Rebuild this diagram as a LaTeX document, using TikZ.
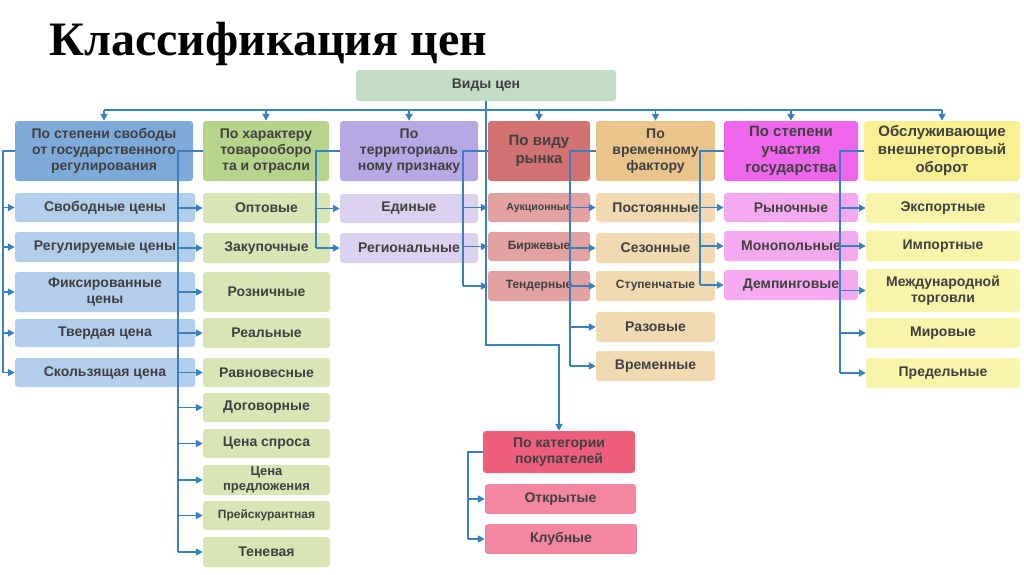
\documentclass[tikz,border=0pt]{standalone}
\usepackage{fontspec}
\setmainfont{Liberation Sans}
\newfontfamily\titlefont{Liberation Serif}
\usetikzlibrary{arrows.meta}
\definecolor{ln}{HTML}{3A7FC0}
\definecolor{tx}{HTML}{404040}
\definecolor{cRoot}{HTML}{C2DCC6}
\definecolor{hA}{HTML}{7DAAD8}\definecolor{cA}{HTML}{B2CEEA}
\definecolor{hB}{HTML}{B6D48C}\definecolor{cB}{HTML}{D8E6B6}
\definecolor{hC}{HTML}{B6A8E2}\definecolor{cC}{HTML}{DAD2EE}
\definecolor{hD}{HTML}{D27272}\definecolor{cD}{HTML}{E2A2A2}
\definecolor{hE}{HTML}{E9C58C}\definecolor{cE}{HTML}{F1DAB2}
\definecolor{hF}{HTML}{EE66EC}\definecolor{cF}{HTML}{F5AAF0}
\definecolor{hG}{HTML}{F8F092}\definecolor{cG}{HTML}{F8F4AA}
\definecolor{hH}{HTML}{EE5F7E}\definecolor{cH}{HTML}{F586A2}
\tikzset{
 bx/.style={rounded corners=3pt,inner sep=0pt,align=center,text=tx,font=\bfseries\fontsize{14}{16}\selectfont},
 sm/.style={font=\bfseries\fontsize{12}{14}\selectfont},
 wire/.style={draw=ln,line width=1.8pt},
 ar/.style={wire,-{Triangle[length=7pt,width=7pt]}}
}
\newcommand\bx[8][]{\node[bx,#1,fill=#7,minimum width={(#4-#2)*1pt},minimum height={(#5-#3)*1pt}] (#6) at ({(#2+#4)/2},{-(#3+#5)/2}) {#8};}
\begin{document}
\begin{tikzpicture}[x=1pt,y=1pt]
\useasboundingbox (0,0) rectangle (1024,-574);
\node[anchor=west,font=\titlefont\bfseries\fontsize{48}{50}\selectfont] (title) at (46,-44) {Классификация цен};
\bx{356}{70}{616}{101}{root}{cRoot}{Виды цен}
% headers
\bx{15}{121}{193}{181}{h1}{hA}{По степени свободы\\от государственного\\регулирования}
\bx{203}{121}{329}{181}{h2}{hB}{По характеру\\товарооборо\\та и отрасли}
\bx{340}{121}{478}{181}{h3}{hC}{По\\территориаль\\ному признаку}
\bx[font=\bfseries\fontsize{15}{18}\selectfont]{488}{121}{590}{181}{h4}{hD}{По виду\\рынка}
\bx{596}{121}{715}{181}{h5}{hE}{По\\временному\\фактору}
\bx[font=\bfseries\fontsize{15}{18}\selectfont]{724}{121}{858}{181}{h6}{hF}{По степени\\участия\\государства}
\bx[font=\bfseries\fontsize{15}{18}\selectfont]{864}{121}{1020}{181}{h7}{hG}{Обслуживающие\\внешнеторговый\\оборот}
% col1
\bx{15}{193}{195}{222}{a1}{cA}{Свободные цены}
\bx{15}{232}{195}{262}{a2}{cA}{Регулируемые цены}
\bx{15}{272}{195}{312}{a3}{cA}{Фиксированные\\цены}
\bx{15}{319}{195}{347}{a4}{cA}{Твердая цена}
\bx{15}{358}{195}{387}{a5}{cA}{Скользящая цена}
% col2
\bx{203}{193}{330}{223}{b1}{cB}{Оптовые}
\bx{203}{233}{330}{263}{b2}{cB}{Закупочные}
\bx{203}{272}{330}{312}{b3}{cB}{Розничные}
\bx{203}{318}{330}{348}{b4}{cB}{Реальные}
\bx{203}{358}{330}{387}{b5}{cB}{Равновесные}
\bx{203}{393}{330}{422}{b6}{cB}{Договорные}
\bx{203}{429}{330}{458}{b7}{cB}{Цена спроса}
\bx[font=\bfseries\fontsize{13}{15}\selectfont]{203}{465}{330}{495}{b8}{cB}{Цена\\предложения}
\bx[sm]{203}{501}{330}{530}{b9}{cB}{Прейскурантная}
\bx{203}{537}{330}{567}{b10}{cB}{Теневая}
% col3
\bx{340}{194}{478}{223}{c1}{cC}{Единые}
\bx{340}{233}{478}{263}{c2}{cC}{Региональные}
% col4
\bx[font=\bfseries\fontsize{10.5}{12}\selectfont]{488}{193}{590}{222}{d1}{cD}{Аукционные}
\bx[sm]{488}{232}{590}{261}{d2}{cD}{Биржевые}
\bx[sm]{488}{271}{590}{301}{d3}{cD}{Тендерные}
% col5
\bx{596}{193}{715}{222}{e1}{cE}{Постоянные}
\bx{596}{233}{715}{263}{e2}{cE}{Сезонные}
\bx[sm]{596}{271}{715}{301}{e3}{cE}{Ступенчатые}
\bx{596}{312}{715}{342}{e4}{cE}{Разовые}
\bx{596}{351}{715}{381}{e5}{cE}{Временные}
% col6
\bx{724}{193}{858}{222}{f1}{cF}{Рыночные}
\bx{724}{231}{858}{261}{f2}{cF}{Монопольные}
\bx{724}{270}{858}{300}{f3}{cF}{Демпинговые}
% col7
\bx{866}{193}{1020}{223}{g1}{cG}{Экспортные}
\bx{866}{231}{1020}{261}{g2}{cG}{Импортные}
\bx{866}{269}{1020}{312}{g3}{cG}{Международной\\торговли}
\bx{866}{318}{1020}{348}{g4}{cG}{Мировые}
\bx{866}{358}{1020}{388}{g5}{cG}{Предельные}
% category
\bx{483}{431}{635}{473}{k0}{hH}{По категории\\покупателей}
\bx{485}{484}{636}{514}{k1}{cH}{Открытые}
\bx{485}{524}{637}{554}{k2}{cH}{Клубные}
% bus
\coordinate (bus) at (0,-110);
\draw[wire] (h1.north |- bus) -- (h7.north |- bus);
\foreach \h in {h1,h2,h3,h4,h5,h6,h7}{\draw[ar] (\h.north |- bus) -- (\h.north);}
\draw[ar] (root.south) -- ++(0,-244) -| (k0.north);
% column connectors
\foreach \h/\vx/\last/\kids in {
 h1/3/a5/{a1,a2,a3,a4,a5},
 h2/178/b10/{b1,b2,b3,b4,b5,b6,b7,b8,b9,b10},
 h3/316/c2/{c1,c2},
 h4/463/d3/{d1,d2,d3},
 h5/570/e5/{e1,e2,e3,e4,e5},
 h6/700/f3/{f1,f2,f3},
 h7/840/g5/{g1,g2,g3,g4,g5},
 k0/468/k2/{k1,k2}}{
 \coordinate (v) at (\vx,0);
 \draw[wire] (\h.west) -- (\h.west -| v) -- (\last.west -| v);
 \foreach \c in \kids {\draw[ar] (\c.west -| v) -- (\c.west);}
}
\end{tikzpicture}
\end{document}
